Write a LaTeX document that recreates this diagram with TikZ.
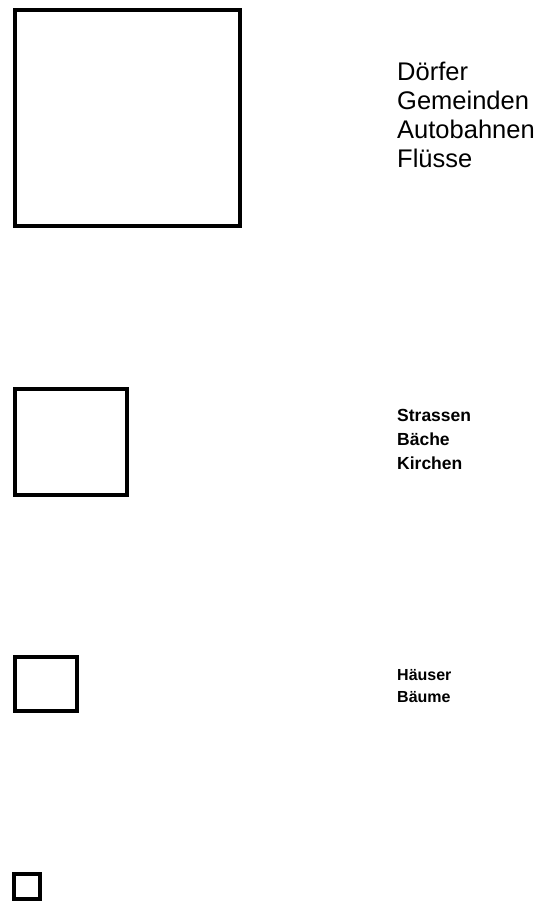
\documentclass[tikz,border=0pt]{standalone}
\usepackage{fontspec}
\setmainfont{Liberation Sans}
\begin{document}
\begin{tikzpicture}[x=1pt,y=-1pt,
  box/.style={draw=black,line width=#1,fill=none},
  biglab/.style={anchor=north west,align=left,inner sep=0pt,font=\fontsize{25.5}{29}\selectfont},
  midlab/.style={anchor=north west,align=left,inner sep=0pt,font=\fontsize{17.5}{24}\selectfont\bfseries},
  smalllab/.style={anchor=north west,align=left,inner sep=0pt,font=\fontsize{16}{22}\selectfont\bfseries}]
\useasboundingbox (0,0) rectangle (548,903);
\draw[box=4.5pt] (15,10) rectangle (240,226);
\draw[box=4pt] (15,389) rectangle (127,495);
\draw[box=4pt] (15,657) rectangle (77,711);
\draw[box=3.5pt] (14,874) rectangle (40,899);
\node[biglab] (l1) at (397,62) {Dörfer\\Gemeinden\\Autobahnen\\Flüsse};
\node[midlab] (l2) at (397,409) {Strassen\\Bäche\\Kirchen};
\node[smalllab] (l3) at (397,669) {Häuser\\Bäume};
\end{tikzpicture}
\end{document}
